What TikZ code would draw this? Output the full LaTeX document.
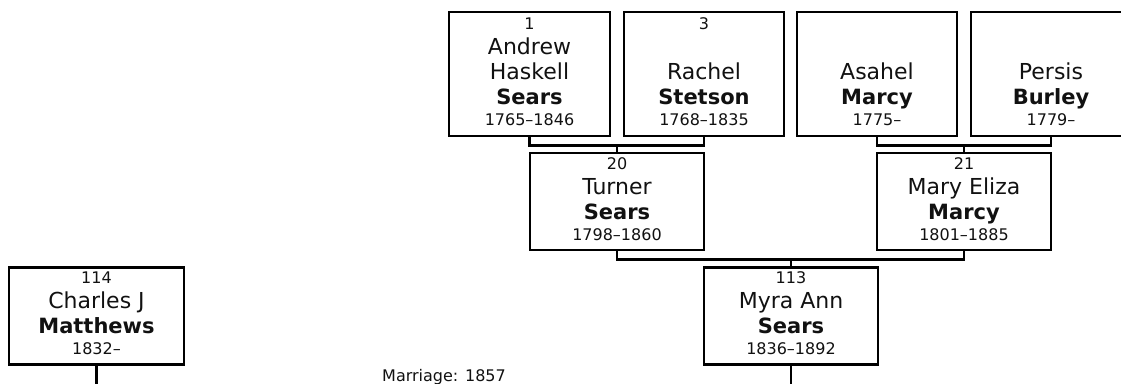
\documentclass[tikz,border=0pt]{standalone}
\usepackage{fontspec}
\setmainfont{DejaVu Sans}
\definecolor{BoxLine}{HTML}{000000}
\definecolor{NameText}{HTML}{111111}

\newcommand{\numfont}{\fontsize{16}{25}\selectfont}
\newcommand{\namefont}{\fontsize{22}{25}\selectfont}
\newcommand{\pnum}[1]{\rule{0pt}{16pt}{\numfont #1}}
\newcommand{\psur}[1]{{\fontsize{21}{25}\selectfont\bfseries #1}}
\newcommand{\pyears}[1]{{\numfont #1}\rule[-10pt]{0pt}{10pt}}

\tikzset{
  person/.style={draw=BoxLine, line width=2.5pt, rectangle, align=center,
    inner sep=0pt, minimum width=174pt, font=\namefont, text=NameText},
  toprow/.style={person, minimum width=160pt, minimum height=124pt},
  famline/.style={draw=BoxLine, line width=2.5pt},
}

\begin{document}
\begin{tikzpicture}[x=1pt, y=-1pt]
  \clip (0,0) rectangle (1121,383);
  % grandparents
  \node[toprow, minimum width=161pt] (andrew) at (529.5,74) {\pnum{1}\\ Andrew\\ Haskell\\ \psur{Sears}\\[-4pt] \pyears{1765--1846}};
  \node[toprow] (rachel) at (704,74) {\pnum{3}\\ \mbox{}\\ Rachel\\ \psur{Stetson}\\[-4pt] \pyears{1768--1835}};
  \node[toprow] (asahel) at (877,74) {\pnum{}\\ \mbox{}\\ Asahel\\ \psur{Marcy}\\[-4pt] \pyears{1775--}};
  \node[toprow] (persis) at (1051,74) {\pnum{}\\ \mbox{}\\ Persis\\ \psur{Burley}\\[-4pt] \pyears{1779--}};
  % parents
  \node[person] (turner) at (617,201.5) {\pnum{20}\\ Turner\\ \psur{Sears}\\[-4pt] \pyears{1798--1860}};
  \node[person] (maryeliza) at (964,201.5) {\pnum{21}\\ Mary Eliza\\ \psur{Marcy}\\[-4pt] \pyears{1801--1885}};
  % couple
  \node[person, minimum width=175pt] (charles) at (96.5,316) {\pnum{114}\\ Charles J\\ \psur{Matthews}\\[-4pt] \pyears{1832--}};
  \node[person] (myra) at (791,316) {\pnum{113}\\ Myra Ann\\ \psur{Sears}\\[-4pt] \pyears{1836--1892}};
  \node[anchor=base west, font=\fontsize{16}{19}\selectfont, text=NameText, inner sep=0pt] (marriage) at (382,381) {Marriage: 1857};

  % family lines
  \draw[famline] (andrew.south) -- ++(0,8) coordinate (bar1) -| (rachel.south);
  \draw[famline] (turner.north) -- (turner.north |- bar1);
  \draw[famline] (asahel.south) -- ++(0,8) coordinate (bar2) -| (persis.south);
  \draw[famline] (maryeliza.north) -- (maryeliza.north |- bar2);
  \draw[famline] (turner.south) -- ++(0,8) coordinate (bar3) -| (maryeliza.south);
  \draw[famline] (myra.north) -- (myra.north |- bar3);
  \coordinate (charlesdown) at (96.5,390);
  \coordinate (myradown) at (791,390);
  \draw[famline] (charles.south) -- (charlesdown);
  \draw[famline] (myra.south) -- (myradown);
\end{tikzpicture}
\end{document}
